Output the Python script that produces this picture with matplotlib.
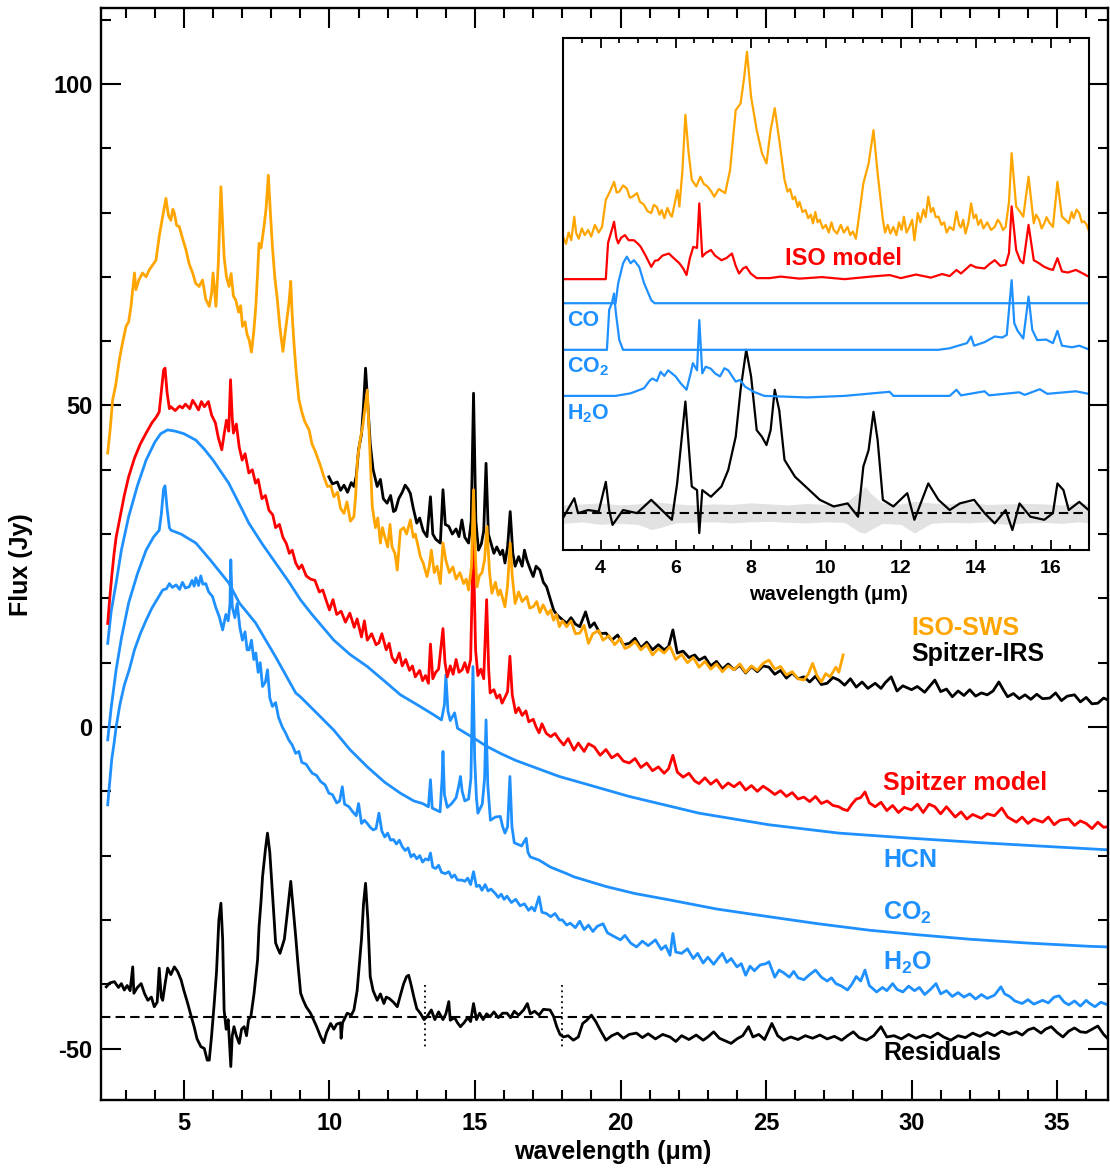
import numpy as np
import matplotlib
matplotlib.use('Agg')
import matplotlib.pyplot as plt
from matplotlib.ticker import MultipleLocator

plt.rcParams['font.family'] = ['Liberation Sans', 'DejaVu Sans']
plt.rcParams['font.weight'] = 'bold'
plt.rcParams['axes.unicode_minus'] = False
plt.rcParams['mathtext.fontset'] = 'custom'
plt.rcParams['mathtext.rm'] = 'Liberation Sans:bold'
plt.rcParams['mathtext.default'] = 'rm'

ORANGE = '#FFA500'
RED = '#FF0000'
BLUE = '#1E90FF'

# ---------------- main panel spectra (wavelength in micron, flux in Jy) ----------------
iso_x = [2.38, 2.47, 2.55, 2.65, 2.78, 2.88, 3.01, 3.10, 3.18, 3.30, 3.35, 3.45, 3.58, 3.70, 3.81, 3.92,
         4.04, 4.15, 4.27, 4.38, 4.47, 4.55, 4.62, 4.67, 4.75, 4.84, 4.95, 5.07, 5.18, 5.30, 5.40, 5.52,
         5.64, 5.75, 5.87, 5.95, 6.00, 6.10, 6.18, 6.27, 6.33, 6.38, 6.46, 6.55, 6.62, 6.70, 6.78, 6.88,
         6.95, 7.01, 7.10, 7.17, 7.24, 7.32, 7.40, 7.47, 7.53, 7.58, 7.65, 7.75, 7.82, 7.90, 7.97, 8.04,
         8.12, 8.21, 8.30, 8.40, 8.47, 8.55, 8.61, 8.67, 8.72, 8.78, 8.86, 8.95, 9.05, 9.15, 9.30, 9.40,
         9.50, 9.58, 9.70, 9.80, 9.93, 10.05, 10.15, 10.28, 10.38, 10.50, 10.60, 10.72, 10.84, 10.90, 10.96, 11.05,
         11.15, 11.30, 11.38, 11.47, 11.58, 11.66, 11.75, 11.82, 11.90, 12.00, 12.08, 12.15, 12.25, 12.33, 12.40, 12.44,
         12.55, 12.65, 12.78, 12.88, 12.95, 13.05, 13.12, 13.22, 13.35, 13.43, 13.50, 13.60, 13.70, 13.81, 13.90, 14.00,
         14.12, 14.24, 14.35, 14.48, 14.61, 14.70, 14.78, 14.88, 14.95, 15.02, 15.07, 15.15, 15.24, 15.33, 15.41, 15.50,
         15.58, 15.70, 15.80, 15.87, 15.95, 16.03, 16.12, 16.21, 16.28, 16.38, 16.50, 16.62, 16.78, 16.88, 17.00, 17.12,
         17.23, 17.34, 17.50, 17.60, 17.70, 17.80, 17.90, 18.00, 18.15, 18.30, 18.45, 18.60, 18.75, 18.90, 19.05, 19.25,
         19.40, 19.60, 19.80, 20.00, 20.15, 20.30, 20.50, 20.70, 20.90, 21.10, 21.30, 21.50, 21.70, 21.90, 22.10, 22.30,
         22.50, 22.70, 22.90, 23.10, 23.30, 23.50, 23.70, 23.90, 24.10, 24.30, 24.50, 24.70, 24.90, 25.10, 25.30, 25.50,
         25.70, 25.90, 26.10, 26.30, 26.45, 26.60, 26.75, 26.90, 27.05, 27.20, 27.40, 27.50, 27.65]
iso_y = [42.6, 46.5, 50.9, 53.0, 57.1, 59.5, 62.3, 63.0, 65.4, 70.6, 68.0, 69.5, 70.6, 70.0, 71.1, 71.8,
         72.6, 76.3, 79.4, 82.2, 79.5, 78.8, 80.5, 79.9, 78.0, 77.8, 76.0, 74.2, 72.0, 70.6, 69.0, 68.5,
         69.5, 66.5, 65.4, 67.5, 70.6, 65.4, 72.0, 84.0, 78.0, 73.1, 70.0, 68.5, 70.5, 67.0, 66.4, 64.5,
         65.5, 62.3, 63.0, 61.0, 60.2, 58.3, 61.5, 65.4, 70.5, 75.2, 74.5, 77.8, 80.5, 85.8, 80.0, 74.7,
         70.0, 66.4, 62.0, 58.4, 61.0, 63.8, 66.0, 69.3, 64.0, 59.7, 55.0, 50.9, 49.0, 47.5, 46.2, 44.0,
         43.0, 42.0, 40.5, 39.0, 37.4, 37.5, 35.8, 36.5, 34.0, 33.2, 35.0, 32.0, 32.7, 36.0, 41.5, 44.5,
         47.0, 52.4, 44.0, 34.3, 31.0, 32.5, 28.6, 31.0, 29.6, 28.0, 31.5, 28.0, 27.0, 24.4, 28.5, 30.6,
         31.0, 30.0, 32.2, 29.5, 30.0, 28.0, 26.5, 25.5, 23.4, 25.0, 27.5, 24.0, 25.0, 22.3, 28.6, 25.9,
         24.0, 24.9, 23.0, 24.0, 22.3, 23.0, 21.3, 25.0, 36.9, 26.0, 21.8, 23.5, 24.0, 26.0, 31.2, 24.0,
         20.8, 22.5, 20.5, 21.3, 20.0, 18.7, 22.0, 28.6, 23.5, 19.2, 21.0, 19.5, 20.3, 18.5, 18.7, 19.5,
         17.8, 19.0, 17.5, 18.2, 16.6, 17.5, 15.6, 16.5, 15.6, 16.5, 14.5, 14.6, 15.8, 13.0, 14.5, 15.0,
         13.5, 14.2, 12.8, 13.8, 12.2, 12.5, 13.3, 12.0, 12.8, 11.2, 12.2, 11.5, 12.5, 10.5, 11.3, 10.0,
         10.8, 9.3, 10.2, 9.0, 9.8, 8.6, 9.5, 8.9, 9.8, 8.5, 9.5, 8.8, 9.9, 10.4, 9.0, 9.4,
         8.1, 8.6, 7.5, 7.3, 8.2, 9.9, 8.0, 7.0, 8.3, 7.8, 9.3, 8.5, 11.2]

irs_x = [9.98, 10.10, 10.27, 10.38, 10.50, 10.62, 10.75, 10.84, 10.92, 11.00, 11.10, 11.17, 11.24, 11.32, 11.40, 11.50,
         11.64, 11.75, 11.85, 11.98, 12.10, 12.20, 12.27, 12.38, 12.50, 12.60, 12.70, 12.78, 12.88, 13.00, 13.10, 13.22,
         13.35, 13.47, 13.55, 13.65, 13.81, 13.90, 13.98, 14.10, 14.22, 14.35, 14.45, 14.55, 14.65, 14.78, 14.87, 14.95,
         15.03, 15.12, 15.22, 15.30, 15.38, 15.46, 15.55, 15.65, 15.75, 15.87, 15.95, 16.03, 16.12, 16.21, 16.30, 16.38,
         16.50, 16.62, 16.70, 16.78, 16.90, 17.00, 17.10, 17.23, 17.35, 17.46, 17.58, 17.70, 17.80, 17.90, 18.05, 18.15,
         18.30, 18.45, 18.60, 18.80, 18.95, 19.10, 19.30, 19.50, 19.70, 19.90, 20.10, 20.30, 20.50, 20.70, 20.90, 21.10,
         21.30, 21.50, 21.65, 21.80, 21.95, 22.15, 22.35, 22.55, 22.70, 22.90, 23.10, 23.30, 23.50, 23.70, 23.90, 24.10,
         24.30, 24.50, 24.70, 24.90, 25.10, 25.30, 25.50, 25.70, 25.90, 26.10, 26.30, 26.50, 26.70, 26.90, 27.10, 27.30,
         27.50, 27.70, 27.90, 28.10, 28.30, 28.50, 28.75, 28.95, 29.10, 29.30, 29.50, 29.70, 30.00, 30.20, 30.45, 30.65,
         30.80, 31.00, 31.20, 31.40, 31.60, 31.80, 32.00, 32.20, 32.40, 32.60, 32.80, 33.00, 33.15, 33.30, 33.50, 33.70,
         33.90, 34.10, 34.30, 34.50, 34.75, 34.95, 35.15, 35.35, 35.60, 35.80, 36.00, 36.20, 36.40, 36.60, 36.75]
irs_y = [38.9, 37.8, 38.1, 36.8, 37.6, 36.5, 38.0, 37.4, 39.0, 43.1, 45.5, 50.0, 55.8, 50.0, 44.1, 40.0,
         37.4, 38.5, 35.5, 34.8, 36.0, 33.5, 33.7, 35.5, 36.5, 37.6, 37.0, 36.3, 34.0, 31.7, 32.5, 30.5,
         29.6, 35.8, 30.0, 29.2, 28.6, 36.9, 31.5, 31.2, 30.0, 30.8, 29.6, 32.2, 29.5, 28.6, 32.0, 51.9,
         32.0, 27.5, 28.5, 30.5, 41.0, 30.0, 28.6, 27.0, 28.0, 26.8, 27.5, 25.5, 28.0, 33.5, 27.0, 25.0,
         26.5, 25.0, 27.5, 26.0, 24.5, 23.4, 25.0, 24.4, 22.5, 21.8, 20.0, 18.2, 17.5, 17.1, 16.5, 16.1,
         17.0, 16.0, 15.6, 17.9, 15.5, 16.2, 14.5, 14.6, 13.5, 14.3, 12.8, 13.0, 13.8, 12.3, 13.2, 12.0,
         12.8, 12.0, 12.5, 15.1, 11.5, 11.8, 10.8, 11.2, 10.4, 10.9, 9.5, 10.2, 9.0, 9.8, 8.9, 9.6,
         8.4, 9.4, 8.6, 9.5, 9.3, 8.2, 8.8, 7.6, 8.4, 7.5, 7.8, 7.0, 7.9, 6.6, 6.8, 7.7,
         7.3, 6.5, 7.5, 6.2, 7.0, 6.0, 6.8, 6.0, 6.9, 7.8, 5.6, 6.4, 5.8, 6.3, 5.4, 6.5,
         7.3, 5.5, 5.9, 4.7, 5.6, 4.9, 5.8, 4.8, 5.3, 5.0, 5.6, 7.0, 5.8, 4.7, 5.2, 4.4,
         5.0, 4.3, 5.1, 4.4, 4.5, 5.3, 4.1, 4.8, 5.0, 3.9, 4.6, 3.6, 3.7, 4.5, 4.2]

model_x = [2.38, 2.45, 2.52, 2.60, 2.67, 2.80, 2.95, 3.10, 3.30, 3.50, 3.70, 3.90, 4.05, 4.15, 4.22, 4.30,
           4.35, 4.42, 4.50, 4.55, 4.70, 4.85, 4.95, 5.05, 5.20, 5.30, 5.40, 5.50, 5.60, 5.70, 5.84, 5.95,
           6.08, 6.18, 6.30, 6.38, 6.46, 6.54, 6.60, 6.66, 6.70, 6.80, 6.90, 7.00, 7.10, 7.23, 7.35, 7.46,
           7.55, 7.68, 7.80, 7.92, 8.05, 8.15, 8.28, 8.40, 8.52, 8.62, 8.72, 8.84, 8.95, 9.05, 9.20, 9.35,
           9.50, 9.65, 9.77, 9.90, 10.00, 10.12, 10.25, 10.40, 10.55, 10.70, 10.85, 10.95, 11.10, 11.20, 11.30, 11.45,
           11.60, 11.70, 11.80, 11.95, 12.05, 12.15, 12.27, 12.40, 12.50, 12.62, 12.75, 12.85, 12.95, 13.10, 13.20, 13.30,
           13.40, 13.47, 13.55, 13.65, 13.75, 13.90, 13.97, 14.05, 14.15, 14.25, 14.35, 14.45, 14.56, 14.65, 14.75, 14.85,
           14.94, 15.02, 15.10, 15.20, 15.30, 15.40, 15.47, 15.52, 15.65, 15.75, 15.85, 15.93, 16.05, 16.12, 16.20, 16.28,
           16.40, 16.50, 16.62, 16.75, 16.85, 17.00, 17.10, 17.20, 17.30, 17.45, 17.60, 17.75, 17.90, 18.05, 18.20, 18.40,
           18.55, 18.75, 18.90, 19.10, 19.30, 19.50, 19.70, 19.90, 20.10, 20.30, 20.50, 20.70, 20.90, 21.10, 21.30, 21.50,
           21.65, 21.80, 21.95, 22.15, 22.35, 22.55, 22.70, 22.90, 23.10, 23.30, 23.50, 23.70, 23.90, 24.10, 24.30, 24.50,
           24.70, 24.90, 25.10, 25.30, 25.50, 25.70, 25.90, 26.10, 26.30, 26.50, 26.70, 26.90, 27.10, 27.30, 27.50, 27.65,
           27.80, 27.95, 28.10, 28.25, 28.40, 28.55, 28.75, 28.95, 29.15, 29.35, 29.55, 29.75, 30.00, 30.20, 30.40, 30.60,
           30.80, 31.00, 31.20, 31.50, 31.70, 31.90, 32.10, 32.40, 32.60, 32.85, 33.10, 33.30, 33.60, 33.80, 34.00, 34.20,
           34.50, 34.70, 34.90, 35.10, 35.40, 35.60, 35.80, 36.00, 36.20, 36.40, 36.60, 36.75]
model_y = [16.1, 20.0, 23.5, 27.0, 29.5, 32.5, 36.0, 38.9, 41.8, 44.0, 45.7, 47.3, 48.2, 49.0, 52.0, 55.5,
           55.8, 52.0, 49.5, 49.8, 49.2, 49.9, 49.6, 50.2, 49.5, 50.8, 50.1, 49.3, 50.6, 49.8, 50.6, 48.5,
           47.3, 45.0, 43.1, 45.5, 47.7, 46.0, 54.0, 48.0, 45.7, 47.1, 43.5, 41.5, 42.5, 39.5, 40.0, 37.9,
           38.5, 35.5, 36.0, 33.7, 33.0, 31.0, 31.5, 29.5, 28.5, 27.0, 27.5, 25.5, 24.6, 25.2, 23.5, 23.0,
           22.8, 21.0, 21.3, 19.5, 18.2, 19.8, 17.5, 18.0, 16.3, 17.7, 15.5, 16.8, 14.0, 16.5, 13.5, 14.5,
           12.8, 13.1, 14.5, 12.0, 13.0, 10.8, 10.0, 11.5, 9.5, 10.5, 8.8, 9.5, 7.8, 8.8, 7.2, 8.0,
           6.8, 12.9, 7.5, 8.5, 9.0, 15.3, 10.0, 7.8, 9.5, 8.2, 10.5, 8.5, 8.9, 10.0, 8.5, 10.5,
           29.0, 12.0, 8.0, 9.0, 7.5, 19.8, 9.0, 5.3, 5.8, 4.5, 5.0, 3.7, 4.8, 5.5, 11.0, 5.0,
           2.2, 3.0, 1.8, 2.5, 0.8, 1.2, 0.0, -0.9, 0.5, -1.0, -1.5, -1.0, -2.0, -2.8, -1.8, -3.6,
           -2.5, -3.8, -2.6, -3.1, -4.4, -3.5, -4.8, -4.2, -5.3, -5.6, -4.9, -6.3, -5.6, -6.8, -6.2, -7.2,
           -6.5, -4.4, -7.0, -7.8, -7.2, -8.4, -8.8, -7.9, -8.9, -8.2, -9.5, -8.7, -9.3, -8.6, -9.8, -9.1,
           -10.0, -9.2, -9.8, -10.5, -9.9, -10.8, -10.2, -11.2, -10.9, -11.6, -10.8, -11.9, -11.5, -12.2, -12.4, -12.8,
           -13.0, -12.0, -11.2, -11.0, -10.1, -11.8, -12.4, -11.7, -13.0, -12.2, -13.3, -12.5, -12.9, -12.0, -13.3, -12.0,
           -12.4, -13.5, -12.4, -14.0, -13.2, -14.3, -13.6, -14.2, -13.5, -13.8, -12.6, -14.0, -14.8, -14.0, -15.0, -14.3,
           -14.8, -14.0, -15.2, -14.5, -14.3, -15.3, -14.6, -15.0, -15.8, -14.8, -15.6, -15.5]

hcn_x = [2.38, 2.50, 2.67, 2.85, 3.10, 3.40, 3.70, 4.00, 4.20, 4.44, 4.70, 5.00, 5.41, 5.70, 6.00, 6.54,
         7.00, 7.23, 7.70, 8.15, 8.60, 9.00, 9.40, 10.15, 10.70, 11.30, 11.90, 12.44, 13.00, 13.58, 13.85, 13.95,
         14.00, 14.07, 14.15, 14.30, 14.40, 14.95, 15.40, 15.87, 16.40, 17.00, 17.90, 18.60, 20.30, 22.70, 25.10, 27.50,
         30.00, 32.40, 34.75, 36.75]
hcn_y = [13.0, 18.0, 22.4, 27.5, 32.7, 37.5, 41.5, 44.3, 45.6, 46.2, 46.0, 45.6, 44.6, 43.2, 41.5, 37.9,
         33.8, 31.7, 28.4, 25.5, 22.6, 19.8, 17.5, 13.5, 11.3, 9.4, 7.1, 5.0, 3.5, 1.9, 1.1, 3.5,
         8.1, 2.5, 1.0, 2.2, -0.2, -1.7, -3.0, -4.1, -5.2, -6.2, -7.7, -8.6, -10.8, -13.4, -15.2, -16.5,
         -17.3, -18.0, -18.6, -19.1]

co2_x = [2.38, 2.50, 2.67, 2.85, 3.10, 3.40, 3.70, 3.95, 4.15, 4.22, 4.30, 4.35, 4.42, 4.50, 4.55, 4.90,
         5.41, 5.90, 6.54, 6.90, 7.46, 8.15, 8.84, 9.00, 9.60, 10.15, 10.70, 11.30, 11.90, 12.44, 12.90, 13.20,
         13.40, 13.47, 13.53, 13.80, 13.87, 13.90, 13.95, 14.05, 14.20, 14.35, 14.45, 14.50, 14.56, 14.65, 14.78, 14.86,
         14.93, 14.99, 15.05, 15.10, 15.25, 15.33, 15.38, 15.44, 15.53, 15.70, 15.87, 15.95, 16.03, 16.12, 16.20, 16.27,
         16.35, 16.60, 16.76, 16.82, 16.90, 17.20, 17.60, 18.15, 18.40, 19.50, 20.50, 21.70, 23.30, 25.10, 26.80, 28.55,
         30.20, 32.00, 34.00, 36.10, 36.75]
co2_y = [-2.0, 3.0, 8.9, 13.8, 19.3, 23.8, 27.5, 29.5, 30.6, 33.0, 37.0, 37.5, 34.0, 31.0, 30.6, 30.0,
         28.6, 26.0, 22.4, 19.3, 16.2, 10.9, 5.3, 4.7, 2.0, -0.5, -3.5, -6.2, -8.6, -10.3, -11.5, -11.9,
         -12.4, -8.2, -12.6, -13.2, -8.0, -3.8, -10.5, -12.5, -11.9, -11.0, -9.0, -7.7, -10.0, -11.5, -11.2, -8.0,
         9.4, -5.0, -11.0, -13.4, -12.0, -8.0, 1.1, -9.0, -14.5, -14.0, -13.9, -15.5, -16.5, -15.5, -7.7, -15.5,
         -18.0, -18.5, -17.3, -19.5, -20.2, -20.7, -21.8, -22.8, -23.3, -24.8, -25.9, -26.9, -28.3, -29.5, -30.6, -31.6,
         -32.3, -33.0, -33.6, -34.1, -34.2]

h2o_x = [2.38, 2.45, 2.52, 2.60, 2.67, 2.80, 2.95, 3.12, 3.30, 3.50, 3.70, 3.90, 4.10, 4.27, 4.40, 4.50,
         4.60, 4.73, 4.85, 4.95, 5.05, 5.18, 5.28, 5.35, 5.41, 5.50, 5.58, 5.65, 5.75, 5.85, 5.98, 6.10,
         6.21, 6.33, 6.44, 6.52, 6.58, 6.61, 6.66, 6.75, 6.83, 6.92, 7.01, 7.10, 7.17, 7.24, 7.32, 7.40,
         7.47, 7.55, 7.62, 7.70, 7.80, 7.87, 7.95, 8.04, 8.15, 8.25, 8.38, 8.50, 8.60, 8.72, 8.84, 8.95,
         9.05, 9.20, 9.30, 9.41, 9.55, 9.70, 9.85, 9.98, 10.10, 10.25, 10.35, 10.44, 10.52, 10.67, 10.80, 10.92,
         11.00, 11.10, 11.20, 11.30, 11.40, 11.50, 11.60, 11.70, 11.80, 11.90, 12.00, 12.10, 12.20, 12.30, 12.40, 12.50,
         12.60, 12.70, 12.80, 12.90, 13.00, 13.10, 13.20, 13.30, 13.40, 13.47, 13.55, 13.65, 13.75, 13.85, 13.98, 14.10,
         14.20, 14.30, 14.40, 14.55, 14.65, 14.75, 14.85, 14.95, 15.05, 15.15, 15.24, 15.35, 15.45, 15.55, 15.70, 15.80,
         15.90, 16.00, 16.10, 16.25, 16.40, 16.55, 16.70, 16.84, 16.95, 17.05, 17.20, 17.30, 17.45, 17.60, 17.75, 17.90,
         18.00, 18.15, 18.27, 18.45, 18.60, 18.75, 18.90, 19.05, 19.20, 19.40, 19.55, 19.75, 20.00, 20.15, 20.35, 20.55,
         20.75, 20.95, 21.20, 21.40, 21.55, 21.70, 21.80, 21.90, 22.10, 22.30, 22.50, 22.65, 22.84, 23.00, 23.20, 23.35,
         23.50, 23.65, 23.80, 24.00, 24.15, 24.30, 24.45, 24.60, 24.80, 25.00, 25.10, 25.30, 25.45, 25.60, 25.80, 25.95,
         26.10, 26.30, 26.50, 26.70, 26.90, 27.10, 27.25, 27.40, 27.60, 27.80, 27.95, 28.10, 28.25, 28.40, 28.55, 28.80,
         29.00, 29.15, 29.35, 29.50, 29.70, 29.90, 30.10, 30.27, 30.45, 30.65, 30.84, 31.00, 31.20, 31.40, 31.60, 31.80,
         32.00, 32.20, 32.40, 32.60, 32.85, 33.07, 33.20, 33.37, 33.55, 33.80, 34.00, 34.20, 34.50, 34.70, 34.90, 35.07,
         35.25, 35.40, 35.60, 35.80, 36.00, 36.10, 36.30, 36.50, 36.75]
h2o_y = [-12.1, -8.5, -5.0, -2.5, 0.0, 3.5, 6.5, 8.9, 12.0, 14.5, 16.6, 18.5, 20.0, 21.3, 21.5, 22.3,
         21.7, 22.1, 21.4, 22.5, 21.6, 21.8, 22.8, 21.9, 23.2, 22.0, 23.5, 22.2, 22.3, 21.0, 20.3, 18.5,
         17.2, 15.1, 17.5, 16.5, 19.0, 26.0, 18.7, 17.0, 19.2, 15.5, 13.5, 14.8, 12.0, 12.0, 13.5, 10.5,
         11.5, 8.5, 10.0, 6.3, 7.0, 8.9, 4.5, 3.2, 3.8, 1.5, 0.0, -1.0, -2.0, -2.8, -4.1, -3.8,
         -5.5, -5.8, -6.5, -7.2, -7.5, -8.5, -9.0, -10.3, -10.5, -11.8, -11.5, -9.3, -12.0, -12.4, -13.2, -13.8,
         -11.9, -15.0, -14.5, -15.0, -15.6, -16.0, -15.8, -13.4, -16.2, -17.1, -16.5, -17.6, -17.5, -18.2, -17.6, -18.6,
         -19.2, -18.8, -20.2, -19.8, -20.5, -20.0, -21.0, -20.5, -20.7, -19.6, -21.8, -22.0, -21.5, -22.6, -22.8, -22.5,
         -23.4, -23.0, -23.8, -23.8, -24.0, -23.5, -24.5, -22.5, -24.8, -24.6, -25.4, -24.5, -25.5, -25.2, -25.9, -26.5,
         -26.0, -26.8, -26.3, -27.3, -26.8, -27.8, -27.5, -28.5, -28.0, -28.6, -26.4, -28.8, -29.0, -29.5, -29.0, -30.0,
         -30.0, -30.8, -30.5, -31.2, -30.2, -31.5, -30.8, -31.8, -31.0, -30.6, -32.0, -32.5, -33.1, -32.4, -33.6, -34.2,
         -33.3, -34.0, -33.1, -34.6, -34.0, -35.5, -32.1, -35.0, -35.2, -34.5, -36.0, -35.2, -36.7, -35.8, -36.9, -36.0,
         -35.2, -36.6, -36.0, -37.3, -36.8, -38.6, -37.2, -37.9, -37.0, -36.8, -36.5, -38.9, -37.8, -38.2, -38.9, -38.0,
         -39.0, -39.3, -38.5, -37.8, -38.9, -39.5, -39.0, -39.9, -40.3, -40.9, -40.0, -38.8, -39.5, -37.8, -40.2, -41.2,
         -40.5, -41.0, -39.9, -40.8, -41.2, -40.3, -41.0, -40.5, -41.6, -40.8, -39.9, -41.5, -41.0, -41.9, -41.3, -42.0,
         -41.5, -42.3, -41.6, -42.2, -41.7, -40.4, -41.5, -41.9, -42.6, -43.0, -42.4, -43.1, -42.5, -42.9, -42.0, -41.8,
         -42.8, -43.2, -42.6, -43.4, -42.5, -42.9, -43.5, -42.8, -43.2]

res_x = [2.33, 2.45, 2.61, 2.75, 2.85, 2.95, 3.05, 3.15, 3.24, 3.28, 3.40, 3.53, 3.65, 3.76, 3.88, 3.98,
         4.08, 4.15, 4.22, 4.27, 4.35, 4.44, 4.55, 4.67, 4.78, 4.90, 5.00, 5.13, 5.25, 5.35, 5.45, 5.58,
         5.70, 5.80, 5.87, 5.95, 6.04, 6.12, 6.20, 6.27, 6.33, 6.38, 6.45, 6.52, 6.61, 6.66, 6.72, 6.80,
         6.90, 6.98, 7.07, 7.15, 7.22, 7.30, 7.41, 7.53, 7.58, 7.65, 7.70, 7.80, 7.87, 7.95, 8.03, 8.10,
         8.15, 8.23, 8.30, 8.38, 8.45, 8.55, 8.67, 8.75, 8.84, 8.92, 9.01, 9.10, 9.20, 9.35, 9.45, 9.55,
         9.70, 9.80, 9.90, 10.04, 10.15, 10.25, 10.38, 10.40, 10.45, 10.61, 10.75, 10.84, 10.95, 11.01, 11.10, 11.17,
         11.24, 11.32, 11.40, 11.50, 11.64, 11.75, 11.87, 11.95, 12.05, 12.20, 12.33, 12.45, 12.55, 12.65, 12.72, 12.80,
         12.90, 13.00, 13.12, 13.25, 13.35, 13.50, 13.62, 13.75, 13.90, 14.00, 14.10, 14.15, 14.30, 14.40, 14.50, 14.62,
         14.75, 14.85, 14.95, 15.05, 15.16, 15.28, 15.40, 15.52, 15.65, 15.80, 15.95, 16.10, 16.22, 16.35, 16.50, 16.67,
         16.80, 16.90, 17.05, 17.20, 17.35, 17.58, 17.70, 17.81, 17.92, 18.04, 18.20, 18.38, 18.55, 18.70, 18.84, 19.00,
         19.15, 19.30, 19.50, 19.70, 19.90, 20.10, 20.30, 20.55, 20.75, 20.95, 21.20, 21.45, 21.70, 21.90, 22.10, 22.35,
         22.60, 22.84, 23.00, 23.20, 23.40, 23.60, 23.80, 24.00, 24.20, 24.40, 24.55, 24.75, 24.95, 25.20, 25.40, 25.60,
         25.85, 26.10, 26.35, 26.60, 26.85, 27.10, 27.35, 27.60, 27.80, 28.00, 28.20, 28.45, 28.70, 28.95, 29.15, 29.40,
         29.65, 29.90, 30.15, 30.40, 30.65, 30.90, 31.10, 31.35, 31.60, 31.85, 32.10, 32.35, 32.60, 32.85, 33.10, 33.35,
         33.60, 33.80, 34.00, 34.20, 34.45, 34.60, 34.80, 35.00, 35.20, 35.40, 35.60, 35.80, 36.00, 36.20, 36.40, 36.60,
         36.75]
res_y = [-40.4, -39.8, -39.6, -40.5, -39.9, -40.9, -40.2, -41.0, -37.3, -41.4, -40.5, -39.9, -41.5, -42.5, -42.0, -43.5,
         -42.8, -37.5, -42.0, -42.5, -40.0, -37.5, -38.5, -37.3, -38.0, -39.3, -41.0, -43.0, -45.0, -46.6, -48.5, -49.7,
         -50.0, -51.8, -51.8, -48.0, -43.0, -38.0, -30.0, -27.4, -33.0, -44.0, -47.0, -45.5, -52.8, -48.0, -46.6, -48.0,
         -49.2, -47.0, -46.6, -48.0, -45.5, -45.0, -41.4, -36.2, -31.1, -27.0, -23.3, -19.0, -16.5, -19.5, -25.0, -30.0,
         -33.6, -34.5, -35.2, -34.0, -33.0, -29.0, -24.0, -28.0, -32.6, -37.0, -41.4, -42.5, -43.5, -44.5, -45.5, -46.5,
         -48.2, -49.1, -47.5, -46.1, -47.0, -46.2, -46.0, -48.4, -46.0, -44.5, -44.8, -44.0, -41.0, -37.8, -33.0, -27.5,
         -24.3, -30.0, -38.8, -41.0, -42.5, -41.5, -43.0, -42.0, -42.2, -42.8, -43.5, -41.5, -39.9, -38.8, -38.6, -40.0,
         -42.0, -43.8, -44.5, -45.5, -45.05, -44.0, -45.5, -44.3, -45.5, -44.6, -42.7, -45.6, -45.2, -46.0, -46.6, -46.0,
         -45.2, -45.8, -43.0, -45.5, -44.5, -45.5, -44.6, -45.05, -44.3, -45.2, -44.5, -44.5, -45.2, -44.2, -44.8, -44.0,
         -43.0, -44.6, -44.2, -44.8, -43.9, -44.0, -45.0, -46.6, -47.8, -48.2, -48.0, -48.7, -48.2, -46.1, -45.6, -44.8,
         -45.8, -47.1, -48.7, -48.0, -47.6, -48.4, -47.8, -47.6, -48.3, -47.7, -48.5, -47.8, -48.2, -48.9, -48.0, -48.6,
         -47.9, -48.7, -48.2, -47.4, -48.4, -48.8, -49.2, -48.5, -48.0, -46.6, -48.2, -47.8, -48.6, -46.1, -48.0, -48.7,
         -48.2, -48.6, -48.0, -48.4, -47.9, -48.5, -48.1, -48.7, -48.0, -47.4, -48.3, -48.7, -48.0, -46.6, -48.2, -48.0,
         -48.5, -47.8, -48.4, -47.9, -48.3, -47.6, -48.2, -48.7, -48.0, -48.3, -47.6, -48.1, -47.5, -48.0, -47.3, -47.8,
         -47.4, -47.9, -47.1, -46.8, -47.6, -47.0, -46.6, -47.5, -48.2, -47.3, -46.8, -47.4, -47.5, -47.0, -46.5, -47.8,
         -48.5]

res_level = -45.05
cut_lines = [13.27, 17.98]

# ---------------- inset (ISO wavelength range, stacked offsets) ----------------
in_iso_x = [3.0, 3.08, 3.15, 3.22, 3.3, 3.35, 3.42, 3.5, 3.58, 3.67, 3.75, 3.85, 3.95, 4.04, 4.14, 4.25,
            4.36, 4.43, 4.5, 4.6, 4.7, 4.78, 4.85, 4.97, 5.05, 5.15, 5.25, 5.35, 5.42, 5.5, 5.57, 5.63,
            5.7, 5.78, 5.85, 5.9, 6.05, 6.1, 6.18, 6.26, 6.34, 6.43, 6.55, 6.66, 6.75, 6.85, 6.95, 7.03,
            7.15, 7.32, 7.45, 7.6, 7.73, 7.82, 7.9, 8.01, 8.16, 8.3, 8.42, 8.53, 8.64, 8.76, 8.9, 8.98,
            9.05, 9.12, 9.18, 9.25, 9.3, 9.38, 9.46, 9.53, 9.6, 9.66, 9.72, 9.78, 9.84, 9.92, 10.0, 10.08,
            10.15, 10.21, 10.3, 10.4, 10.48, 10.58, 10.65, 10.72, 10.8, 10.86, 11.0, 11.14, 11.27, 11.38, 11.52, 11.58,
            11.65, 11.72, 11.8, 11.88, 11.95, 12.02, 12.08, 12.15, 12.22, 12.3, 12.36, 12.45, 12.52, 12.6, 12.66, 12.73,
            12.8, 12.86, 12.93, 13.0, 13.08, 13.15, 13.22, 13.3, 13.4, 13.48, 13.55, 13.6, 13.66, 13.72, 13.8, 13.87,
            13.94, 14.0, 14.06, 14.13, 14.2, 14.3, 14.4, 14.5, 14.58, 14.65, 14.72, 14.79, 14.88, 14.95, 15.07, 15.18,
            15.26, 15.4, 15.54, 15.6, 15.68, 15.75, 15.82, 15.88, 15.95, 16.05, 16.17, 16.29, 16.38, 16.47, 16.55, 16.6,
            16.68, 16.75, 16.82, 16.88, 16.95, 17.0]
in_iso_y = [61.2, 59.8, 62.0, 60.5, 65.1, 61.9, 60.8, 62.8, 61.5, 62.5, 61.2, 63.5, 62.0, 63.1, 68.4, 70.0,
            71.9, 69.8, 70.0, 71.2, 70.6, 68.8, 69.0, 69.7, 68.0, 67.5, 66.2, 65.8, 67.4, 67.0, 65.5, 66.4,
            64.8, 66.8, 65.6, 65.1, 70.3, 67.1, 74.0, 85.0, 78.0, 72.3, 71.0, 72.9, 71.5, 71.0, 70.0, 69.0,
            70.5, 69.7, 74.2, 85.9, 87.2, 92.0, 97.3, 88.5, 82.0, 77.5, 75.5, 82.0, 86.3, 80.1, 72.3, 70.0,
            70.5, 68.5, 69.0, 67.0, 68.0, 66.0, 66.4, 64.8, 65.5, 63.8, 66.0, 64.0, 64.5, 62.8, 63.5, 62.0,
            64.0, 62.5, 61.8, 63.5, 62.0, 63.1, 61.5, 62.2, 60.8, 63.8, 71.6, 75.5, 82.0, 73.6, 64.5, 62.0,
            63.5, 61.8, 63.1, 61.5, 64.0, 62.5, 65.1, 62.0, 63.0, 64.5, 60.5, 65.8, 64.0, 66.5, 65.0, 69.0,
            66.0, 66.8, 65.0, 65.1, 63.5, 64.0, 62.0, 63.1, 62.5, 66.1, 63.5, 63.0, 64.5, 61.8, 64.0, 67.7,
            64.8, 65.5, 63.5, 64.5, 62.8, 64.0, 62.5, 63.1, 64.5, 63.8, 62.5, 63.1, 68.0, 77.5, 67.1, 66.0,
            65.1, 72.9, 63.8, 65.5, 64.5, 62.8, 63.8, 65.0, 64.0, 63.1, 71.9, 65.1, 64.5, 63.8, 66.0, 64.8,
            66.5, 65.8, 64.0, 64.2, 63.5, 62.5]

in_mod_x = [3.0, 4.14, 4.2, 4.3, 4.36, 4.42, 4.47, 4.55, 4.65, 4.75, 4.89, 5.0, 5.07, 5.2, 5.35, 5.45,
            5.53, 5.65, 5.82, 5.95, 6.1, 6.2, 6.29, 6.38, 6.47, 6.57, 6.63, 6.71, 6.8, 6.94, 7.05, 7.22,
            7.35, 7.5, 7.6, 7.69, 7.8, 7.88, 8.0, 8.16, 8.5, 8.8, 9.3, 9.9, 10.5, 11.2, 11.7, 12.0,
            12.4, 12.8, 13.1, 13.3, 13.48, 13.6, 13.86, 14.0, 14.23, 14.35, 14.5, 14.65, 14.79, 14.88, 14.95, 15.07,
            15.18, 15.26, 15.4, 15.54, 15.68, 15.82, 15.95, 16.05, 16.17, 16.29, 16.45, 16.66, 16.85, 17.0]
in_mod_y = [52.9, 52.9, 60.0, 62.5, 64.1, 61.0, 59.9, 61.0, 61.5, 60.5, 60.5, 59.8, 59.2, 57.5, 55.3, 56.5,
            56.6, 57.5, 57.9, 57.0, 56.0, 55.0, 53.7, 57.0, 59.2, 59.0, 67.7, 57.3, 58.0, 58.6, 57.5, 56.6,
            57.0, 57.9, 55.5, 54.0, 55.0, 55.3, 54.0, 53.1, 53.1, 53.4, 53.0, 53.3, 52.9, 53.4, 53.7, 53.1,
            53.8, 53.2, 53.9, 53.5, 54.7, 54.0, 55.7, 55.2, 55.0, 55.8, 56.6, 55.5, 55.7, 58.0, 67.1, 58.6,
            56.5, 56.0, 63.5, 56.6, 56.0, 55.3, 54.9, 54.7, 57.0, 54.4, 54.2, 54.7, 54.0, 53.4]

in_co_x = [3.0, 4.4, 4.47, 4.6, 4.7, 4.8, 4.89, 5.03, 5.16, 5.35, 5.44, 17.0]
in_co_y = [48.2, 48.2, 52.1, 56.0, 57.3, 56.0, 56.6, 55.3, 52.1, 48.8, 48.2, 48.2]

in_co2_x = [3.0, 4.17, 4.23, 4.3, 4.36, 4.41, 4.5, 4.6, 13.0, 13.3, 13.48, 13.76, 13.87, 13.95, 14.23, 14.5,
            14.7, 14.82, 14.95, 15.02, 15.11, 15.26, 15.4, 15.5, 15.63, 15.87, 16.05, 16.17, 16.29, 16.56, 16.75, 17.0]
in_co2_y = [39.1, 39.1, 46.9, 48.2, 50.1, 46.2, 41.0, 39.1, 39.1, 39.4, 39.8, 40.4, 41.7, 39.9, 40.6, 41.7,
            41.5, 42.0, 52.7, 44.3, 42.8, 41.3, 49.5, 43.0, 41.0, 41.1, 40.4, 42.8, 39.9, 39.6, 39.9, 39.2]

in_h2o_x = [3.0, 4.4, 4.8, 5.16, 5.3, 5.38, 5.5, 5.6, 5.7, 5.8, 5.9, 6.0, 6.13, 6.29, 6.4, 6.46,
            6.57, 6.63, 6.71, 6.8, 6.94, 7.05, 7.18, 7.3, 7.4, 7.5, 7.6, 7.72, 7.85, 8.08, 8.36, 9.5,
            10.5, 11.7, 11.8, 13.3, 13.48, 13.6, 14.23, 14.35, 15.15, 15.3, 15.7, 15.9, 16.66, 17.0]
in_h2o_y = [30.1, 30.1, 30.6, 31.6, 33.0, 33.5, 33.0, 34.8, 34.0, 35.1, 34.5, 33.9, 32.6, 31.3, 34.5, 36.5,
            35.1, 44.9, 34.5, 35.8, 35.4, 34.5, 33.9, 35.5, 35.1, 34.0, 32.9, 33.2, 31.9, 30.9, 30.1, 29.8,
            30.1, 30.9, 30.1, 30.1, 31.3, 30.2, 31.0, 30.2, 30.8, 30.3, 31.4, 30.5, 31.0, 30.5]

in_res_x = [3.02, 3.3, 3.4, 3.67, 3.95, 4.14, 4.23, 4.32, 4.6, 4.97, 5.35, 5.63, 5.9, 6.04, 6.26, 6.43,
            6.57, 6.63, 6.71, 6.94, 7.22, 7.4, 7.6, 7.73, 7.88, 8.01, 8.16, 8.3, 8.42, 8.53, 8.64, 8.76,
            8.9, 9.18, 9.46, 9.84, 10.21, 10.58, 10.86, 11.0, 11.14, 11.27, 11.38, 11.52, 11.8, 12.17, 12.36, 12.73,
            13.0, 13.3, 13.57, 13.95, 14.23, 14.5, 14.79, 14.97, 15.16, 15.45, 15.82, 16.05, 16.17, 16.33, 16.47, 16.75,
            17.0]
in_res_y = [6.5, 10.1, 7.2, 7.8, 7.5, 13.3, 7.8, 4.9, 7.8, 7.2, 9.8, 7.8, 5.9, 13.0, 29.0, 12.4,
            11.7, 3.3, 11.7, 10.4, 12.4, 15.6, 22.1, 31.3, 39.1, 33.9, 23.4, 22.1, 20.5, 23.4, 31.3, 27.3,
            17.6, 14.3, 12.4, 9.8, 8.5, 9.1, 6.5, 16.3, 19.5, 27.0, 21.5, 9.8, 8.5, 11.1, 5.9, 13.0,
            9.8, 7.8, 9.1, 9.8, 7.2, 5.2, 7.8, 3.9, 9.1, 6.5, 5.9, 7.2, 13.0, 11.7, 7.8, 9.4,
            7.8]
in_res_level = 7.2

band_x = [3.0, 3.5, 4.0, 4.5, 5.0, 5.35, 5.6, 6.0, 6.5, 7.0, 7.5, 8.0, 8.5, 9.0, 9.5, 10.0, 10.5,
          10.9, 11.05, 11.2, 11.5, 12.0, 12.36, 12.8, 13.3, 13.8, 14.3, 14.8, 15.3, 15.8, 16.3, 16.7, 17.0]
band_lo = [5.2, 5.5, 5.0, 5.2, 5.0, 4.0, 4.4, 5.3, 5.4, 5.5, 5.3, 5.5, 5.6, 5.4, 5.3, 5.5, 5.4,
           3.5, 3.3, 4.0, 5.2, 5.0, 3.3, 5.2, 5.4, 5.3, 5.5, 5.0, 5.3, 5.4, 5.2, 5.5, 5.3]
band_hi = [8.8, 9.0, 9.2, 8.8, 9.0, 9.5, 9.3, 9.0, 8.8, 9.0, 8.9, 9.2, 9.0, 8.8, 9.1, 8.9, 9.0,
           11.5, 12.4, 11.0, 9.2, 9.0, 9.5, 9.2, 9.0, 9.3, 8.9, 9.0, 9.1, 9.0, 8.8, 9.2, 9.0]

# ---------------- figure ----------------
W, H = 1110, 1169
fig = plt.figure(figsize=(W / 100, H / 100), dpi=100)
ax = fig.add_axes([101 / W, 1 - 1100 / H, 1007 / W, 1092 / H])

lw = 2.0
ax.plot(h2o_x, h2o_y, color=BLUE, lw=lw)
ax.plot(co2_x, co2_y, color=BLUE, lw=lw)
ax.plot(hcn_x, hcn_y, color=BLUE, lw=lw)
ax.plot(model_x, model_y, color=RED, lw=lw)
ax.plot(irs_x, irs_y, color='black', lw=lw)
ax.plot(iso_x, iso_y, color=ORANGE, lw=lw)
ax.plot(res_x, res_y, color='black', lw=lw)
ax.axhline(res_level, color='black', lw=1.5, ls=(0, (4.5, 2.5)))
for xc in cut_lines:
    ax.plot([xc, xc], [-40.1, -49.9], color='black', lw=1.3, ls=(0, (1, 2)))

ax.set_xlim(2.15, 36.75)
ax.set_ylim(-58.0, 111.8)
ax.xaxis.set_major_locator(MultipleLocator(5))
ax.xaxis.set_minor_locator(MultipleLocator(1))
ax.yaxis.set_major_locator(MultipleLocator(50))
ax.yaxis.set_minor_locator(MultipleLocator(10))
ax.tick_params(which='both', direction='in', top=True, right=True, width=1.5, labelsize=17)
ax.tick_params(which='major', length=14.5)
ax.tick_params(which='minor', length=7)
ax.tick_params(axis='x', pad=9)
ax.tick_params(axis='y', pad=6)
for s in ax.spines.values():
    s.set_linewidth(1.7)
ax.set_xlabel('wavelength (μm)', fontsize=18, fontweight='bold')
ax.set_ylabel('Flux (Jy)', fontsize=18, fontweight='bold')
ax.xaxis.set_label_coords(0.508, -0.037)
ax.yaxis.set_label_coords(-0.068, 0.49)

lab = dict(fontsize=18, fontweight='bold', ha='left', va='center')
ax.text(30.0, 15.4, 'ISO-SWS', color=ORANGE, **lab)
ax.text(30.0, 11.35, 'Spitzer-IRS', color='black', **lab)
ax.text(29.03, -8.7, 'Spitzer model', color=RED, **lab)
ax.text(29.03, -20.7, 'HCN', color=BLUE, **lab)
ax.text(29.03, -28.9, 'CO$_2$', color=BLUE, **lab)
ax.text(29.03, -36.7, 'H$_2$O', color=BLUE, **lab)
ax.text(29.03, -50.7, 'Residuals', color='black', **lab)

# inset
ins = fig.add_axes([563 / W, 1 - 550 / H, 525.6 / W, 512 / H])
ins.set_facecolor('white')
ilw = 1.6
ins.fill_between(band_x, band_lo, band_hi, color='#e2e2e2', lw=0)
ins.axhline(in_res_level, color='black', lw=1.5, ls=(0, (4.5, 2.5)))
ins.plot(in_res_x, in_res_y, color='black', lw=ilw)
ins.plot(in_h2o_x, in_h2o_y, color=BLUE, lw=ilw)
ins.plot(in_co2_x, in_co2_y, color=BLUE, lw=ilw)
ins.plot(in_co_x, in_co_y, color=BLUE, lw=ilw)
ins.plot(in_mod_x, in_mod_y, color=RED, lw=ilw)
ins.plot(in_iso_x, in_iso_y, color=ORANGE, lw=ilw)
ins.set_xlim(3, 17)
ins.set_ylim(0, 100)
ins.xaxis.set_major_locator(MultipleLocator(2))
ins.xaxis.set_minor_locator(MultipleLocator(0.5))
ins.set_yticks([])
ins.tick_params(which='both', direction='in', top=True, width=1.3, labelsize=14)
ins.tick_params(which='major', length=7)
ins.tick_params(which='minor', length=3.5)
ins.tick_params(axis='x', pad=7)
for s in ins.spines.values():
    s.set_linewidth(1.5)
ins.set_xlabel('wavelength (μm)', fontsize=14.5, fontweight='bold')
ins.xaxis.set_label_coords(0.505, -0.068)

ilab = dict(fontsize=15.5, fontweight='bold', ha='left', va='center', color=BLUE)
ins.text(8.9, 57.0, 'ISO model', fontsize=17, fontweight='bold', ha='left', va='center', color=RED)
ins.text(3.11, 44.9, 'CO', **ilab)
ins.text(3.11, 35.8, 'CO$_2$', **ilab)
ins.text(3.11, 26.7, 'H$_2$O', **ilab)

fig.savefig('out.png', dpi=100)
